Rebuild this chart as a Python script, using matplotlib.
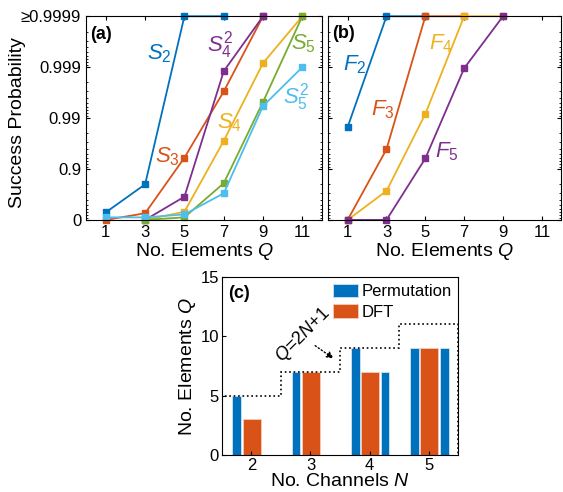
import matplotlib.pyplot as plt
import numpy as np
from matplotlib.ticker import FixedLocator, NullFormatter

plt.rcParams['font.family'] = ['Liberation Sans', 'DejaVu Sans']
plt.rcParams['mathtext.fontset'] = 'custom'
plt.rcParams['mathtext.rm'] = 'Liberation Sans'
plt.rcParams['mathtext.it'] = 'Liberation Sans:italic'
plt.rcParams['mathtext.bf'] = 'Liberation Sans:bold'

# colours (matlab defaults)
C_BLUE = '#0072BD'
C_ORANGE = '#D95319'
C_YELLOW = '#EDB120'
C_PURPLE = '#7E2F8E'
C_GREEN = '#77AC30'
C_CYAN = '#4DBEEE'

# ---- panel (a): success probability vs Q ----
s2_q = [1, 3, 5, 7]
s2_p = [0.29, 0.80, 0.9999, 0.9999]
s3_q = [1, 3, 5, 7, 9]
s3_p = [0.0, 0.26, 0.94, 0.997, 0.9999]
s42_q = [3, 5, 7, 9]
s42_p = [0.0, 0.65, 0.9988, 0.9999]
s4_q = [3, 5, 7, 9, 11]
s4_p = [0.0, 0.31, 0.972, 0.99917, 0.9999]
s5_q = [3, 5, 7, 9, 11]
s5_p = [0.0, 0.11, 0.81, 0.9952, 0.9999]
s52_q = [1, 3, 5, 7, 9, 11]
s52_p = [0.11, 0.11, 0.22, 0.70, 0.9942, 0.999]

# ---- panel (b) ----
f2_q = [1, 3, 5]
f2_p = [0.985, 0.9999, 0.9999]
f3_q = [1, 3, 5, 7]
f3_p = [0.0, 0.959, 0.9999, 0.9999]
f4_q = [1, 3, 5, 7, 9]
f4_p = [0.0, 0.73, 0.9917, 0.9999, 0.9999]
f5_q = [1, 3, 5, 7, 9]
f5_p = [0.0, 0.0, 0.938, 0.99895, 0.9999]

prob_ticks = [0, 0.9, 0.99, 0.999, 0.9999]
prob_labels = ['0', '0.9', '0.99', '0.999', '\u22650.9999']
q_ticks = [1, 3, 5, 7, 9, 11]

# ---- panel (c) ----
channels = [2, 3, 4, 5]
perm_a = [5, 7, 9, 9]
dft = [3, 7, 7, 9]
perm_b = [0, 0, 7, 9]
bound = [5, 7, 9, 11]  # Q = 2N+1


def nines(p):
    p = np.clip(np.asarray(p, dtype=float), 0, 0.99999999)
    return -np.log10(1 - p)


def inv_nines(y):
    return 1 - 10 ** (-np.asarray(y, dtype=float))


minor_p = ([0.1 * k for k in range(1, 9)] + [0.9 + 0.01 * k for k in range(1, 9)]
           + [0.99 + 0.001 * k for k in range(1, 9)] + [0.999 + 0.0001 * k for k in range(1, 9)])


def prob_axis(ax, show_labels=True):
    ax.set_yscale('function', functions=(nines, inv_nines))
    ax.set_ylim(0, 0.9999)
    ax.set_xlim(0, 12)
    ax.set_yticks(prob_ticks)
    ax.yaxis.set_minor_locator(FixedLocator(minor_p))
    ax.yaxis.set_minor_formatter(NullFormatter())
    if show_labels:
        ax.set_yticklabels(prob_labels)
    else:
        ax.set_yticklabels([])
    ax.set_xticks(q_ticks)
    ax.tick_params(direction='in', top=True, right=True, labelsize=12, length=3)
    ax.tick_params(which='minor', direction='in', right=True, length=1.5)
    ax.set_xlabel('No. Elements $\\it{Q}$', fontsize=14, labelpad=1)


fig = plt.figure(figsize=(5.63, 4.92), dpi=100)
ax_a = fig.add_axes([0.153, 0.553, 0.419, 0.414])
ax_b = fig.add_axes([0.583, 0.553, 0.414, 0.414])
ax_c = fig.add_axes([0.394, 0.075, 0.42, 0.362])

mk = dict(marker='s', markersize=4.5, linewidth=1.3, clip_on=False)

# (a)
ax_a.plot(s2_q, s2_p, color=C_BLUE, **mk)
ax_a.plot(s3_q, s3_p, color=C_ORANGE, **mk)
ax_a.plot(s42_q, s42_p, color=C_PURPLE, **mk)
ax_a.plot(s4_q, s4_p, color=C_YELLOW, **mk)
ax_a.plot(s5_q, s5_p, color=C_GREEN, **mk)
ax_a.plot(s52_q, s52_p, color=C_CYAN, **mk)
prob_axis(ax_a)
ax_a.set_ylabel('Success Probability', fontsize=14)
ax_a.yaxis.set_label_coords(-0.255, 0.48)

lab = dict(fontsize=16, ha='center', va='center')
ax_a.text(3.72, inv_nines(3.27), '$S_2$', color=C_BLUE, **lab)
ax_a.text(6.8, inv_nines(3.43), '$S_4^2$', color=C_PURPLE, **lab)
ax_a.text(11.05, inv_nines(3.47), '$S_5$', color=C_GREEN, **lab)
ax_a.text(10.7, inv_nines(2.41), '$S_5^2$', color=C_CYAN, **lab)
ax_a.text(7.3, inv_nines(1.9), '$S_4$', color=C_YELLOW, **lab)
ax_a.text(4.13, inv_nines(1.24), '$S_3$', color=C_ORANGE, **lab)
ax_a.text(0.2, inv_nines(3.65), '(a)', fontsize=13, fontweight='bold', va='center')

# (b)
ax_b.plot(f2_q, f2_p, color=C_BLUE, **mk)
ax_b.plot(f3_q, f3_p, color=C_ORANGE, **mk)
ax_b.plot(f4_q, f4_p, color=C_YELLOW, **mk)
ax_b.plot(f5_q, f5_p, color=C_PURPLE, **mk)
prob_axis(ax_b, show_labels=False)
ax_b.text(1.36, inv_nines(3.04), '$F_2$', color=C_BLUE, **lab)
ax_b.text(2.8, inv_nines(2.16), '$F_3$', color=C_ORANGE, **lab)
ax_b.text(5.82, inv_nines(3.47), '$F_4$', color=C_YELLOW, **lab)
ax_b.text(6.13, inv_nines(1.33), '$F_5$', color=C_PURPLE, **lab)
ax_b.text(0.2, inv_nines(3.67), '(b)', fontsize=13, fontweight='bold', va='center')

# (c)
x = np.array(channels, dtype=float)
ax_c.bar(x - 0.245, perm_a, width=0.15, color=C_BLUE, edgecolor='#cfe3f3', linewidth=0.6,
         label='Permutation')
ax_c.bar(x + 0.01, dft, width=0.31, color=C_ORANGE, edgecolor='#f5cdb9', linewidth=0.6, label='DFT')
ax_c.bar(x + 0.26, perm_b, width=0.15, color=C_BLUE, edgecolor='#cfe3f3', linewidth=0.6)
edges = np.concatenate([x - 0.5, [x[-1] + 0.5]])
ax_c.stairs(bound, edges, color='k', linestyle=':', linewidth=1.2)
ax_c.annotate('', xy=(3.43, 8.0), xytext=(3.04, 9.35),
              arrowprops=dict(arrowstyle='-|>', linestyle=':', color='k', lw=1, mutation_scale=10))
ax_c.text(2.87, 10.1, '$Q$=2$N$+1', rotation=45, fontsize=13, ha='center', va='center')
ax_c.text(1.6, 13.6, '(c)', fontsize=13, fontweight='bold', va='center')
ax_c.set_xlim(1.5, 5.5)
ax_c.set_ylim(0, 15)
ax_c.set_xticks(channels)
ax_c.set_yticks([0, 5, 10, 15])
ax_c.tick_params(direction='in', top=False, right=False, labelsize=12, length=3, pad=2)
ax_c.set_xlabel('No. Channels $\\it{N}$', fontsize=14, labelpad=0)
ax_c.set_ylabel('No. Elements $\\it{Q}$', fontsize=14, labelpad=2)
ax_c.legend(loc='upper right', bbox_to_anchor=(1.0, 1.0), frameon=False, fontsize=12,
            handlelength=1.5, handleheight=0.9, borderaxespad=0.0, labelspacing=0.3,
            handletextpad=0.2)

fig.savefig('out.png', dpi=100)
